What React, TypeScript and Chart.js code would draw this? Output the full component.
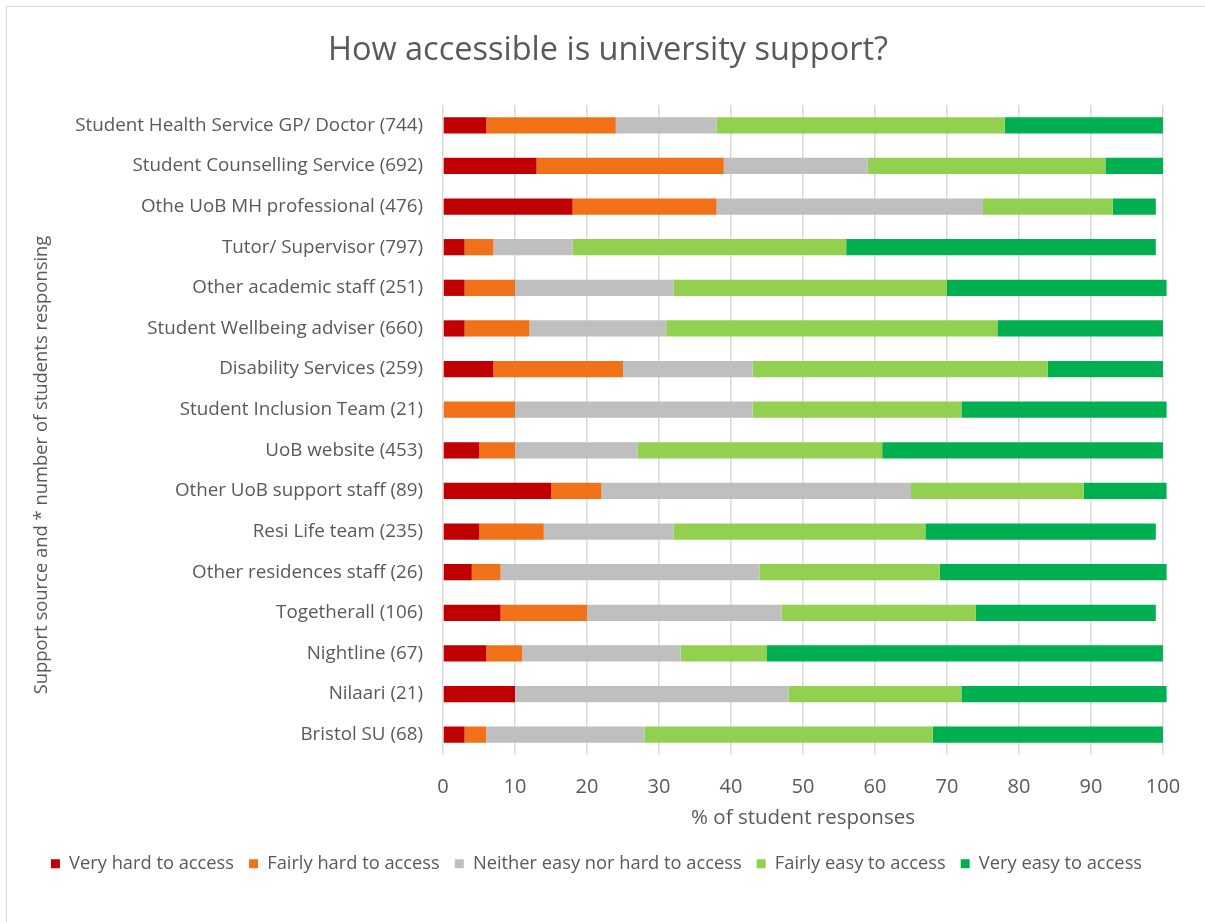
import React, { useEffect, useRef } from 'react';
import { Chart, registerables } from 'chart.js';

Chart.register(...registerables);

const chartTitle = 'How accessible is university support?';
const xAxisTitle = '% of student responses';
const yAxisTitle = 'Support source and * number of students responsing';

const categories = [
  'Student Health Service GP/ Doctor (744)',
  'Student Counselling Service (692)',
  'Othe UoB MH professional (476)',
  'Tutor/ Supervisor (797)',
  'Other academic staff (251)',
  'Student Wellbeing adviser (660)',
  'Disability Services (259)',
  'Student Inclusion Team (21)',
  'UoB website (453)',
  'Other UoB support staff (89)',
  'Resi Life team (235)',
  'Other residences staff (26)',
  'Togetherall (106)',
  'Nightline (67)',
  'Nilaari (21)',
  'Bristol SU (68)',
];

const veryHard = [6, 13, 18, 3, 3, 3, 7, 0, 5, 15, 5, 4, 8, 6, 10, 3];
const fairlyHard = [18, 26, 20, 4, 7, 9, 18, 10, 5, 7, 9, 4, 12, 5, 0, 3];
const neither = [14, 20, 37, 11, 22, 19, 18, 33, 17, 43, 18, 36, 27, 22, 38, 22];
const fairlyEasy = [40, 33, 18, 38, 38, 46, 41, 29, 34, 24, 35, 25, 27, 12, 24, 40];
const veryEasy = [22, 8, 6, 43, 30.5, 23, 16, 28.5, 39, 11.5, 32, 31.5, 25, 55, 28.5, 32];

const seriesNames = [
  'Very hard to access',
  'Fairly hard to access',
  'Neither easy nor hard to access',
  'Fairly easy to access',
  'Very easy to access',
];
const seriesValues = [veryHard, fairlyHard, neither, fairlyEasy, veryEasy];
const seriesColors = ['#C00000', '#F07117', '#BFBFBF', '#92D050', '#00B050'];

const xTickValues = [0, 10, 20, 30, 40, 50, 60, 70, 80, 90, 100];

const FONT = '"Open Sans", "DejaVu Sans", sans-serif';
const TEXT = '#595959';

export default function App() {
  const ref = useRef<HTMLCanvasElement | null>(null);

  useEffect(() => {
    if (!ref.current) return;
    const textPlugin = {
      id: 'customTexts',
      afterDraw(chart: any) {
        const ctx = chart.ctx;
        ctx.save();
        ctx.fillStyle = TEXT;
        ctx.textAlign = 'center';
        ctx.textBaseline = 'middle';
        ctx.font = `32.5px ${FONT}`;
        ctx.fillText(chartTitle, 608, 51);
        ctx.translate(42, 465);
        ctx.rotate(-Math.PI / 2);
        ctx.font = `18.4px ${FONT}`;
        ctx.fillText(yAxisTitle, 0, 0);
        ctx.restore();
      },
    };

    const chart = new Chart(ref.current, {
      type: 'bar',
      data: {
        labels: categories,
        datasets: seriesValues.map((vals, i) => ({
          label: seriesNames[i],
          data: vals,
          backgroundColor: seriesColors[i],
          borderWidth: 0,
          categoryPercentage: 1,
          barPercentage: 0.4,
          clip: false as any,
        })),
      },
      options: {
        indexAxis: 'y',
        animation: false,
        responsive: true,
        maintainAspectRatio: false,
        layout: { padding: { left: 30, right: 42, top: 105, bottom: 39 } },
        plugins: {
          title: { display: false },
          legend: {
            position: 'bottom',
            labels: {
              color: TEXT,
              font: { family: FONT, size: 18.3 },
              boxWidth: 9,
              boxHeight: 9,
              padding: 15,
            },
          },
          tooltip: { enabled: false },
        },
        scales: {
          x: {
            stacked: true,
            min: 0,
            max: 100,
            afterBuildTicks: (s: any) => {
              s.ticks = xTickValues.map((v) => ({ value: v }));
            },
            ticks: { color: TEXT, font: { family: FONT, size: 20 }, padding: 20 },
            grid: { color: '#d9d9d9', lineWidth: 1.5, drawTicks: false },
            border: { display: false },
            title: {
              display: true,
              text: xAxisTitle,
              color: TEXT,
              font: { family: FONT, size: 20.5 },
              padding: { top: 0, bottom: 9.5 },
            },
            afterFit: (s: any) => {
              s.height = 84.75;
            },
          },
          y: {
            stacked: true,
            ticks: { color: TEXT, font: { family: FONT, size: 18.8 }, padding: 20 },
            grid: { display: false, drawTicks: false },
            border: { display: false },
            afterFit: (s: any) => {
              s.width = 413;
            },
          },
        },
      },
      plugins: [textPlugin],
    });
    return () => chart.destroy();
  }, []);

  return (
    <div style={{ position: 'absolute', left: 0, top: 0, width: 1205, height: 922, overflow: 'hidden', background: '#fff' }}>
      <div
        style={{
          position: 'absolute',
          left: 6,
          top: 6,
          width: 1400,
          height: 1200,
          border: '1px solid #d9d9d9',
        }}
      />
      <div style={{ position: 'absolute', left: 0, top: 0, width: 1205, height: 922 }}>
        <canvas ref={ref} />
      </div>
    </div>
  );
}
